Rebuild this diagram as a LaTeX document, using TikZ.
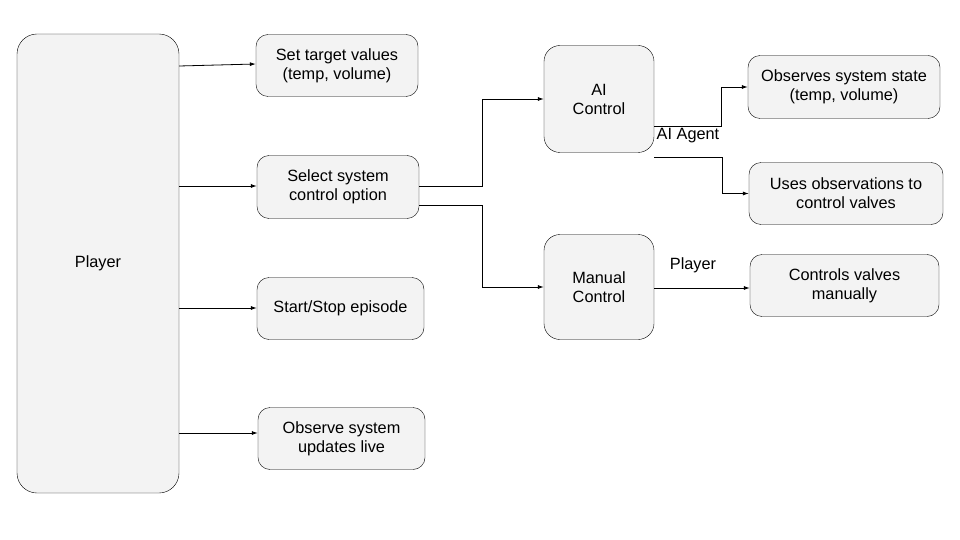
\documentclass[tikz,border=0pt]{standalone}
\usepackage{fontspec}
\setmainfont{Liberation Sans}
\usetikzlibrary{arrows.meta}
\usetikzlibrary{calc}
\definecolor{boxgray}{HTML}{F3F3F3}

\begin{document}
\begin{tikzpicture}[x=1pt, y=-1pt,
    box/.style={draw, fill=boxgray, rounded corners=12pt, align=center, inner sep=0pt,
      font=\fontsize{16.3}{19}\selectfont},
    link/.style={draw, line width=0.8pt, -{Latex[length=6pt, width=4pt]}}]
  \useasboundingbox (0,0) rectangle (960,540);

  \node [box, rounded corners=20pt, minimum width=162pt, minimum height=459pt] (player) at (98,263.5) {Player}; % Draws the player box

  \node [box, minimum width=162pt, minimum height=62pt] (settarget) at (337,65.5) {Set target values\\(temp, volume)};
  \node [box, minimum width=162pt, minimum height=63pt] (selectopt) at (338,187) {Select system\\control option};
  \node [box, minimum width=167pt, minimum height=62pt] (startstop) at (340.5,308.5) {Start/Stop episode};
  \node [box, minimum width=167pt, minimum height=62pt] (observelive) at (341.5,438.5) {Observe system\\updates live};

  \node [box, rounded corners=16pt, minimum width=110pt, minimum height=107pt] (aictrl) at (599,99) {AI\\Control};
  \node [box, rounded corners=16pt, minimum width=110pt, minimum height=105pt] (manualctrl) at (599,287) {Manual\\Control};

  \node [box, minimum width=192pt, minimum height=63pt] (obsstate) at (844,87) {Observes system state\\(temp, volume)};
  \node [box, minimum width=194pt, minimum height=62pt] (useobs) at (846,193.5) {Uses observations to\\control valves};
  \node [box, minimum width=189pt, minimum height=62pt] (valves) at (844.5,285.5) {Controls valves\\manually};

  \coordinate (aiout) at (654,157);

  \draw [link] (player.east |- 0,66) -- (settarget.west |- 0,64);
  \draw [link] (player.east |- 0,186) -- (selectopt.west |- 0,186);
  \draw [link] (player.east |- 0,308) -- (startstop.west |- 0,308);
  \draw [link] (player.east |- 0,433) -- (observelive.west |- 0,433);

  \draw [link] (selectopt.east |- 0,186) -- (482,186) |- (aictrl.west);
  \draw [link] (selectopt.east |- 0,205) -- (482,205) |- (manualctrl.west);

  \draw [link] (aictrl.east |- 0,126) -- (721,126) |- (obsstate.west);
  \draw [link] (aiout) -- (722,157) |- (useobs.west);
  \draw [link] (manualctrl.east |- 0,288) -- (valves.west |- 0,288);

  \node [font=\fontsize{16.3}{19}\selectfont] (agentlbl) at (688,135.5) {AI Agent};
  \node [font=\fontsize{16.3}{19}\selectfont] (playerlbl) at (693,265) {Player};
\end{tikzpicture}
\end{document}
